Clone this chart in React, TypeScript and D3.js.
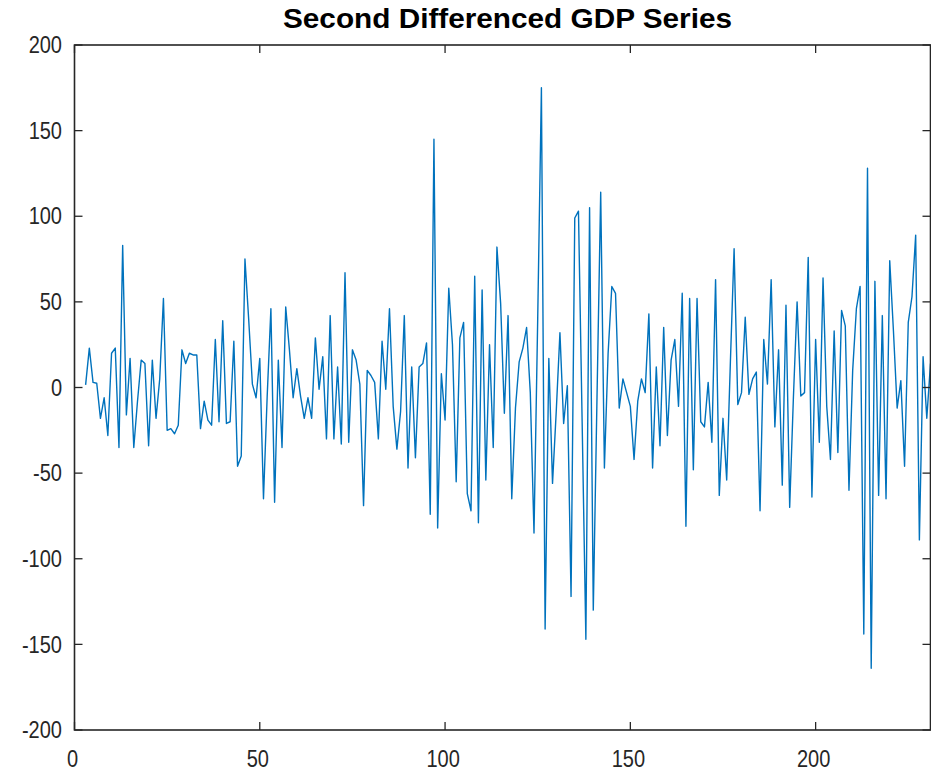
import React from "react";
import * as d3 from "d3";

// ---- data ----
const title = "Second Differenced GDP Series";
const startIndex = 3; // first observation index on the x axis
const values: number[] = [
  1.5, 23, 3, 2.5, -18, -6, -28, 20, 23, -35,
  83, -16, 17, -35, -8, 16, 14, -34, 16, -18,
  5, 52, -25, -24, -27, -22, 22, 14, 20, 19,
  19, -24, -8, -19, -22, 28, -20, 39, -21, -20,
  27, -46, -40, 75, 40, 2, -6, 17, -65, -5,
  46, -67, 16, -35, 47, 22, -6, 11, -5, -18,
  -6, -18, 29, -1, 18, -30, 42, -30, 12, -33,
  67, -32, 22, 16, 2, -69, 10, 7, 3, -30,
  27, -1, 46, -11, -36, -14, 42, -47, 12, -41,
  12, 14, 26, -74, 145, -82, 8, -19, 58, 25,
  -55, 29, 38, -62, -72, 65, -79, 57, -54, 25,
  -35, 82, 49, -15, 42, -65, -12, 15, 23, 35,
  -3, -85, 40, 175, -141, 17, -56, -14, 32, -21,
  1, -122, 99, 103, -21, -147, 105, -130, -6, 114,
  -47, 20, 59, 55, -12, 5, -3, -11, -42, -8,
  5, -3, 43, -47, 12, -34, 35, -28, 16, 28,
  -11, 55, -81, 52, -48, 52, -20, -23, 3, -32,
  63, -63, -18, -54, 15, 81, -10, -3, 41, -4,
  5, 9, -72, 28, 2, 63, -23, 22, -57, 48,
  -70, -6, 50, -5, -3, 76, -64, 28, -32, 64,
  -11, -42, 33, -38, 45, 36, -60, 10, 46, 59,
  -144, 128, -164, 62, -63, 42, -65, 74, 33, -12,
  4, -46, 38, 53, 89, -89, 18, -18, 14,
];
const xDomain: [number, number] = [0, 231];
const yDomain: [number, number] = [-200, 200];
const xTicks = [0, 50, 100, 150, 200];
const yTicks = [-200, -150, -100, -50, 0, 50, 100, 150, 200];

// ---- layout ----
const W = 931;
const H = 773;
const left = 74.5;
const right = 930.5;
const top = 45;
const bottom = 730;
const axisColor = "#262626";
const lineColor = "#0072BD";
const tickLen = 8;
const font = "'Liberation Sans', Arial, Helvetica, sans-serif";
const tickFont = 23;
const squeeze = 0.87;

export default function App() {
  const x = d3.scaleLinear().domain(xDomain).range([left, right]);
  const y = d3.scaleLinear().domain(yDomain).range([bottom, top]);
  const pts: [number, number][] = values.map((v, i) => [startIndex + i, v]);
  const line = d3
    .line<[number, number]>()
    .x((d) => x(d[0]))
    .y((d) => y(d[1]));

  return (
    <svg
      width={W}
      height={H}
      style={{ position: "absolute", left: 0, top: 0, background: "#fff" }}
    >
      <rect x={0} y={0} width={W} height={H} fill="#fff" />
      <defs>
        <clipPath id="plotclip">
          <rect x={left} y={top} width={right - left} height={bottom - top} />
        </clipPath>
      </defs>
      <path
        d={line(pts) || ""}
        fill="none"
        stroke={lineColor}
        strokeWidth={1.4}
        strokeLinejoin="round"
        clipPath="url(#plotclip)"
      />
      {/* ticks */}
      {xTicks.map((t) => (
        <g key={"xt" + t}>
          <line x1={x(t)} x2={x(t)} y1={bottom} y2={bottom - tickLen} stroke={axisColor} strokeWidth={1.3} />
          <line x1={x(t)} x2={x(t)} y1={top} y2={top + tickLen} stroke={axisColor} strokeWidth={1.3} />
          <text
            transform={`translate(${x(t) - 2},767) scale(${squeeze},1)`}
            textAnchor="middle"
            fontFamily={font}
            fontSize={tickFont}
            fill={axisColor}
          >
            {t}
          </text>
        </g>
      ))}
      {yTicks.map((t) => (
        <g key={"yt" + t}>
          <line x1={left} x2={left + tickLen} y1={y(t)} y2={y(t)} stroke={axisColor} strokeWidth={1.3} />
          <line x1={right} x2={right - tickLen} y1={y(t)} y2={y(t)} stroke={axisColor} strokeWidth={1.3} />
          <text
            transform={`translate(62,${y(t) + 8.2}) scale(${squeeze},1)`}
            textAnchor="end"
            fontFamily={font}
            fontSize={tickFont}
            fill={axisColor}
          >
            {t}
          </text>
        </g>
      ))}
      {/* box */}
      <rect
        x={left}
        y={top}
        width={right - left}
        height={bottom - top}
        fill="none"
        stroke={axisColor}
        strokeWidth={1.6}
      />
      <text
        x={(left + right) / 2 + 5}
        y={28}
        textAnchor="middle"
        fontFamily={font}
        fontWeight="bold"
        fontSize={27}
        textLength={449}
        lengthAdjust="spacingAndGlyphs"
        fill="#000"
      >
        {title}
      </text>
    </svg>
  );
}
